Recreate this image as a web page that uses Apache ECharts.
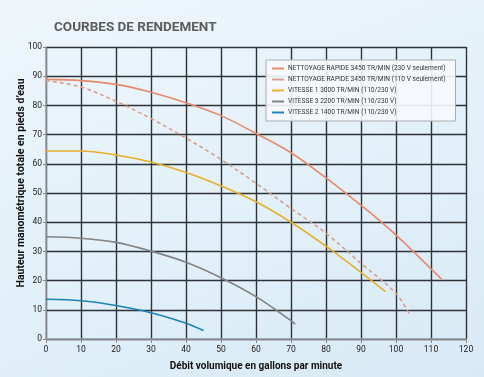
<!DOCTYPE html>
<html>
<head>
    <meta charset="utf-8">
    <title>Courbes de rendement</title>
    <script src="https://cdn.jsdelivr.net/npm/echarts@6/dist/echarts.min.js"></script>
</head>
<style>
    html, body {
        margin: 0;
        width: 100%;
        height: 100%;
        background: linear-gradient(160deg, #eef6fb 0%, #e2f0f9 55%, #d8eaf6 100%);
    }
    #main {
        width: 484px;
        height: 377px;
    }
</style>
<body>
<div id="main"></div>
<script>
    // débit (gpm) et hauteur (pieds)
    var seriesNames = [
        'NETTOYAGE RAPIDE 3450 TR/MIN (230 V seulement)',
        'NETTOYAGE RAPIDE 3450 TR/MIN (110 V seulement)',
        'VITESSE 1 3000 TR/MIN (110/230 V)',
        'VITESSE 3 2200 TR/MIN (110/230 V)',
        'VITESSE 2 1400 TR/MIN (110/230 V)'
    ];

    var flow230 = [0, 10, 20, 30, 40, 50, 60, 70, 80, 90, 100, 113];
    var head230 = [88.9, 88.5, 87.2, 84.5, 80.9, 76.5, 70.4, 63.8, 55.2, 45.8, 35.6, 20.5];

    var flow110 = [0, 10, 20, 30, 40, 50, 60, 70, 80, 90, 100, 104];
    var head110 = [88.5, 86.3, 81.4, 75.5, 68.8, 61.5, 53.3, 44.7, 36.2, 25.9, 15.6, 8.2];

    var flowV1 = [0, 10, 20, 30, 40, 50, 60, 70, 80, 90, 97];
    var headV1 = [64.4, 64.4, 63, 60.6, 57, 52.4, 47, 40, 31.8, 22.8, 16.2];

    var flowV3 = [0, 10, 20, 30, 40, 50, 60, 70, 71.2];
    var headV3 = [35, 34.5, 33.1, 30.1, 26.3, 21, 14.5, 6.3, 5.1];

    var flowV2 = [0, 10, 20, 30, 40, 45];
    var headV2 = [13.6, 13.1, 11.5, 9.0, 5.4, 2.9];

    var colors = ['#e8896a', '#d9a08e', '#e6b02a', '#828282', '#1b84b6'];

    function pairs(xs, ys) {
        var out = [];
        for (var i = 0; i < xs.length; i++) {
            out.push([xs[i], ys[i]]);
        }
        return out;
    }

    var curves = [
        pairs(flow230, head230),
        pairs(flow110, head110),
        pairs(flowV1, headV1),
        pairs(flowV3, headV3),
        pairs(flowV2, headV2)
    ];

    var series = [];
    for (var i = 0; i < curves.length; i++) {
        series.push({
            name: seriesNames[i],
            type: 'line',
            smooth: 0.35,
            symbol: 'none',
            data: curves[i],
            lineStyle: {
                color: colors[i],
                width: 1.6,
                type: i == 1 ? [4, 3] : 'solid'
            },
            itemStyle: {color: colors[i]}
        });
    }

    var chart = echarts.init(document.getElementById('main'));
    var option = {
        animation: false,
        title: {
            text: 'COURBES DE RENDEMENT',
            left: 49,
            top: 16,
            textStyle: {
                fontFamily: 'Roboto',
                fontWeight: 'bold',
                fontSize: 13.5,
                color: '#5c5c5c'
            }
        },
        legend: {
            orient: 'vertical',
            left: 266,
            top: 60,
            itemWidth: 12,
            itemHeight: 2,
            itemGap: 4,
            padding: [5, 10, 5, 6],
            backgroundColor: 'rgba(246,250,253,0.9)',
            borderColor: '#a8acb0',
            borderWidth: 1,
            icon: 'path://M0,0 L12,0 L12,2 L0,2 Z',
            textStyle: {
                fontFamily: 'Roboto',
                fontSize: 6.6,
                color: '#333',
                padding: [0, 0, 0, -1]
            },
            data: seriesNames
        },
        grid: {
            left: 46,
            right: 18,
            top: 47,
            bottom: 38
        },
        xAxis: {
            type: 'value',
            min: 0,
            max: 120,
            interval: 10,
            name: 'Débit volumique en gallons par minute',
            nameLocation: 'middle',
            nameGap: 22,
            nameTextStyle: {
                fontFamily: 'Roboto',
                fontWeight: 'bold',
                fontSize: 10,
                color: '#111'
            },
            axisLine: {lineStyle: {color: '#a0a4a8', width: 1.5}},
            axisTick: {length: 4, lineStyle: {color: '#888'}},
            axisLabel: {
                fontFamily: 'Roboto',
                fontSize: 8.5,
                color: '#222',
                margin: 6
            },
            splitLine: {lineStyle: {color: '#2e3338', width: 1.4}}
        },
        yAxis: {
            type: 'value',
            min: 0,
            max: 100,
            interval: 10,
            name: 'Hauteur manométrique totale en pieds d\u2019eau',
            nameLocation: 'middle',
            nameGap: 19,
            nameMoveOverlap: false,
            nameTextStyle: {
                fontFamily: 'Roboto',
                fontWeight: 'bold',
                fontSize: 10.5,
                color: '#111',
                padding: [0, 0, 0, 20]
            },
            axisLine: {show: true, lineStyle: {color: '#a0a4a8', width: 1.5}},
            axisTick: {show: true, length: 3, lineStyle: {color: '#888'}},
            axisLabel: {
                fontFamily: 'Roboto',
                fontSize: 8.5,
                color: '#222',
                margin: 4
            },
            splitLine: {lineStyle: {color: '#2e3338', width: 1.4}}
        },
        series: series
    };
    chart.setOption(option);

    window.onresize = chart.resize;
</script>
</body>
</html>
